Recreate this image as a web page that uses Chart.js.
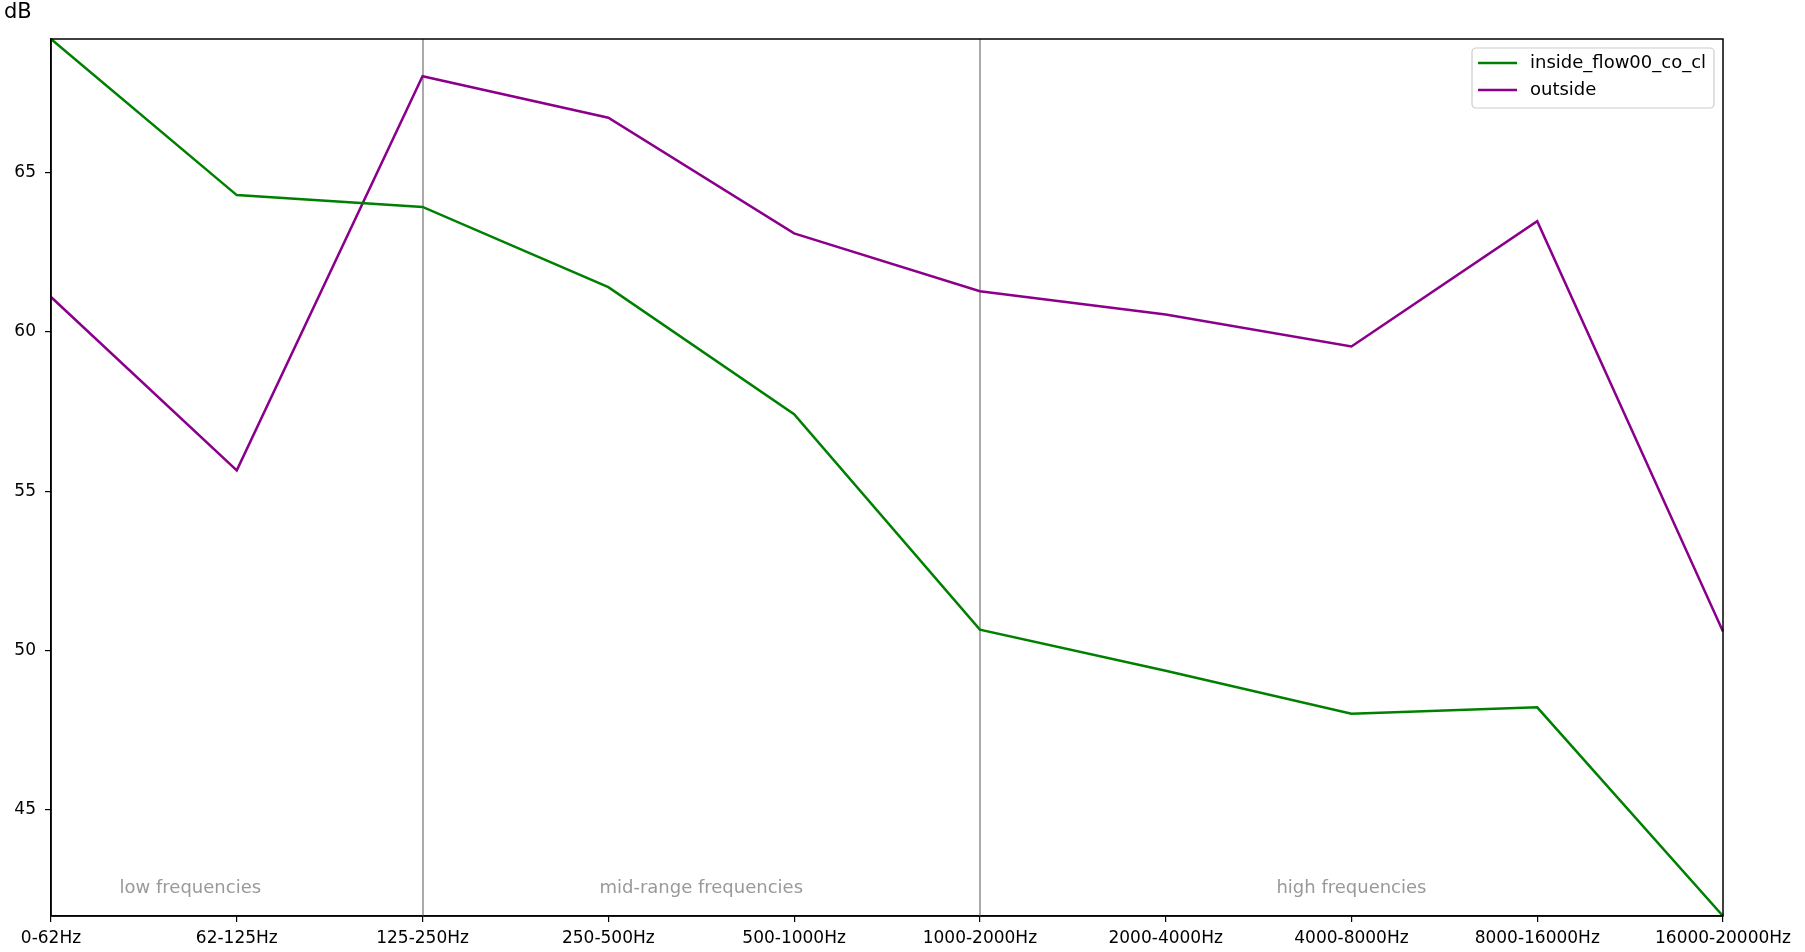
<!DOCTYPE html>
<html>
<head>
<meta charset="utf-8">
<script src="https://cdn.jsdelivr.net/npm/chart.js@4.4.1/dist/chart.umd.min.js"></script>
<style>
  html, body { margin: 0; padding: 0; background: #fff; }
  #wrap { width: 1805px; height: 952px; position: relative; }
</style>
</head>
<body>
<div id="wrap"><canvas id="chart"></canvas></div>
<script>
// ---- data ----
const bands = ["0-62Hz", "62-125Hz", "125-250Hz", "250-500Hz", "500-1000Hz",
               "1000-2000Hz", "2000-4000Hz", "4000-8000Hz", "8000-16000Hz", "16000-20000Hz"];
const insideFlow = [69.2, 64.3, 63.93, 61.41, 57.42, 50.66, 49.37, 48.02, 48.22, 41.67];
const outside    = [61.1, 55.66, 68.03, 66.73, 63.1, 61.28, 60.55, 59.55, 63.48, 50.6];
const yTicks = [45, 50, 55, 60, 65];
const dividers = [2, 5];                       // band index of the grey separators
const regionLabels = ["low frequencies", "mid-range frequencies", "high frequencies"];
const regionCenters = [0.75, 3.5, 7];

const FONT = "'DejaVu Sans', sans-serif";

// grey separators, region captions, frame, legend box and "dB" label
const decorations = {
  id: "decorations",
  beforeDatasetsDraw(chart){
    const { ctx, chartArea: a, scales: { x } } = chart;
    ctx.save();
    ctx.strokeStyle = "#aaaaaa";
    ctx.lineWidth = 2;
    dividers.forEach(i => {
      const px = Math.round(x.getPixelForValue(i));
      ctx.beginPath(); ctx.moveTo(px, a.top); ctx.lineTo(px, a.bottom); ctx.stroke();
    });
    ctx.fillStyle = "#999999";
    ctx.font = "18px " + FONT;
    ctx.textAlign = "center";
    ctx.textBaseline = "middle";
    regionLabels.forEach((t, i) => ctx.fillText(t, x.getPixelForValue(regionCenters[i]), a.bottom - 28));
    ctx.restore();
  },
  afterDraw(chart){
    const { ctx, chartArea: a } = chart;
    ctx.save();
    ctx.strokeStyle = "#000";
    ctx.lineWidth = 1.5;
    ctx.strokeRect(a.left, a.top, a.right - a.left, a.bottom - a.top);

    ctx.fillStyle = "#000";
    ctx.font = "21px " + FONT;
    ctx.textAlign = "left";
    ctx.textBaseline = "middle";
    ctx.fillText("dB", 4, 13);

    // legend
    const bx = a.right - 251, by = a.top + 9, bw = 242, bh = 60;
    ctx.fillStyle = "rgba(255,255,255,0.8)";
    ctx.strokeStyle = "#cccccc";
    ctx.lineWidth = 1.2;
    ctx.beginPath();
    ctx.roundRect(bx, by, bw, bh, 4);
    ctx.fill(); ctx.stroke();
    ctx.font = "18px " + FONT;
    chart.data.datasets.forEach((ds, i) => {
      const ly = by + 15 + i * 27;
      ctx.strokeStyle = ds.borderColor;
      ctx.lineWidth = 2.5;
      ctx.beginPath(); ctx.moveTo(bx + 6, ly); ctx.lineTo(bx + 45, ly); ctx.stroke();
      ctx.fillStyle = "#000";
      ctx.fillText(ds.label, bx + 58, ly);
    });
    ctx.restore();
  }
};

new Chart(document.getElementById("chart"), {
  type: "line",
  data: {
    labels: bands,
    datasets: [
      { label: "inside_flow00_co_cl", data: insideFlow, borderColor: "#008000", borderWidth: 2.5, pointRadius: 0, tension: 0 },
      { label: "outside", data: outside, borderColor: "#8b008b", borderWidth: 2.5, pointRadius: 0, tension: 0 }
    ]
  },
  options: {
    responsive: true,
    maintainAspectRatio: false,
    animation: false,
    layout: { padding: { top: 39, right: 82, left: 0, bottom: 0 } },
    plugins: { legend: { display: false }, tooltip: { enabled: false } },
    scales: {
      x: {
        offset: false,
        grid: { display: true, drawOnChartArea: false, drawTicks: true, tickLength: 6, color: "#000", lineWidth: 1.2 },
        border: { display: true, color: "#000", width: 1.5 },
        ticks: { color: "#000", font: { family: FONT, size: 17 }, padding: 6, maxRotation: 0, autoSkip: false },
        afterFit(s){ s.height = 36; }
      },
      y: {
        min: Math.min(...insideFlow, ...outside),
        max: Math.max(...insideFlow, ...outside),
        grid: { display: true, drawOnChartArea: false, drawTicks: true, tickLength: 6, color: "#000", lineWidth: 1.2 },
        border: { display: true, color: "#000", width: 1.5 },
        ticks: { color: "#000", font: { family: FONT, size: 17 }, padding: 9 },
        afterBuildTicks(s){ s.ticks = yTicks.map(v => ({ value: v })); },
        afterFit(s){ s.width = 51; }
      }
    }
  },
  plugins: [decorations]
});
</script>
</body>
</html>
